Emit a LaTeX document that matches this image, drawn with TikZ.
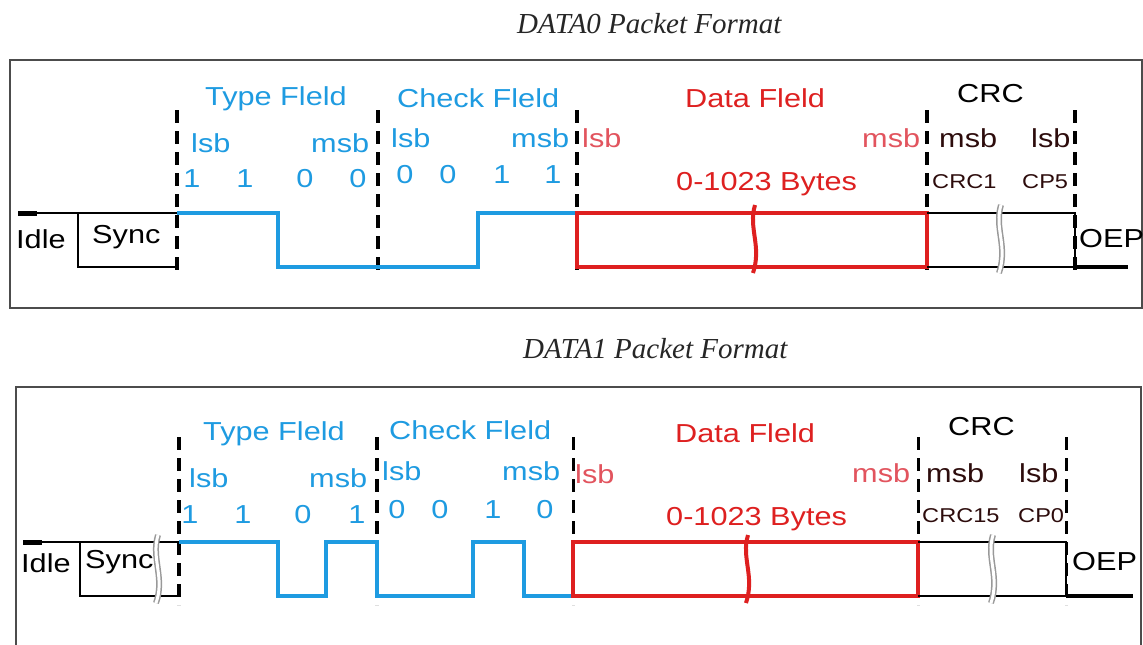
\documentclass[tikz,border=0pt]{standalone}
\usepackage{fontspec}
\setmainfont{Liberation Sans}[FakeStretch=1.18]
\newfontfamily\ttlfont{Liberation Serif}
\definecolor{fldblue}{RGB}{30,155,225}
\definecolor{fldred}{RGB}{222,32,32}
\definecolor{bitred}{RGB}{226,84,94}
\definecolor{crcbrown}{RGB}{45,12,12}

\begin{document}
\begin{tikzpicture}[x=1pt,y=-1pt,
	lbl/.style={inner sep=0pt,anchor=base west,font=\fontsize{26}{30}\selectfont},
	small/.style={lbl,font=\fontsize{20}{24}\selectfont},
	bit/.style={lbl,anchor=base},
	ttl/.style={inner sep=0pt,anchor=base west,text=black!85,font=\ttlfont\itshape\fontsize{29}{33}\selectfont},
	wire/.style={line width=2.8pt},
	bwire/.style={line width=3.2pt,fldblue},
	rwire/.style={line width=4pt,fldred},
	sep/.style={line width=4pt,dash pattern=on 13pt off 8pt},
	thinsep/.style={sep,line width=3pt},
	frame/.style={line width=2.5pt,black!70},
	brkred/.style={line width=4pt,fldred},
	brkgray/.style={draw=black!40,line width=1.5pt,double=white,double distance=3pt}]
	\useasboundingbox[fill=white] (0,0) rectangle (1143,645);
	% DATA0
	\node[ttl] (ttl0) at (517,33) {DATA0 Packet Format};
	\draw[frame] (10,60) rectangle (1142,308);
	\foreach \x in {177,378,577,927,1075} \draw[sep] (\x,110) -- (\x,277);
	\draw[line width=5pt] (18,213) -- ++(19,0); % idle
	\draw[wire] (18,213) -- (177,213) (78,213) -- (78,267) -- (177,267); % sync
	\draw[bwire] (177,213) -- (278,213) -- (278,267) -- (478,267) -- (478,213) -- (577,213); % type + check
	\draw[rwire] (577,213) rectangle (927,267); % data
	\draw[wire] (927,213) -- (1075,213) -- (1075,267) (927,267) -- (1075,267); % crc
	\draw[line width=3.5pt] (1075,267) -- (1128,267); % eop
	\draw[brkred] (755,205) .. controls (748,228) and (762,246) .. (753,273);
	\draw[brkgray] (1001,205) .. controls (994,228) and (1008,246) .. (999,273);
	\node[lbl] (idle0) at (16,248) {Idle};
	\node[lbl] (sync0) at (92,243) {Sync};
	\node[lbl,fldblue] (type0) at (205,105) {Type Fleld};
	\node[lbl,fldblue] (chk0) at (397,107) {Check Fleld};
	\node[lbl,fldred] (data0) at (685,107) {Data Fleld};
	\node[lbl] (crc0) at (957,102) {CRC};
	\node[lbl,fldblue] (tl0) at (191,152) {lsb};
	\node[lbl,fldblue] (tm0) at (311,152) {msb};
	\node[lbl,fldblue] (cl0) at (391,147) {lsb};
	\node[lbl,fldblue] (cm0) at (511,147) {msb};
	\node[lbl,bitred] (dl0) at (582,147) {lsb};
	\node[lbl,bitred] (dm0) at (862,147) {msb};
	\node[lbl,crcbrown] (rm0) at (939,147) {msb};
	\node[lbl,crcbrown] (rl0) at (1031,147) {lsb};
	\foreach \x/\b [count=\i] in {192/1,245/1,305/0,358/0} \node[bit,fldblue] (tb0\i) at (\x,187) {\b};
	\foreach \x/\b [count=\i] in {405/0,448/0,502/1,553/1} \node[bit,fldblue] (cb0\i) at (\x,183) {\b};
	\node[lbl,fldred] (len0) at (676,190) {0-1023 Bytes};
	\node[small,crcbrown] (rf0) at (932,188) {CRC1};
	\node[small,crcbrown] (rs0) at (1022,188) {CP5};
	\node[lbl] (eop0) at (1079,247) {OEP};
	% DATA1
	\node[ttl] (ttl1) at (523,358) {DATA1 Packet Format};
	\draw[frame] (16,646) -- (16,387) -- (1141,387) -- (1141,646);
	\foreach \x in {179,377} \draw[sep] (\x,437) -- (\x,605);
	\foreach \x in {573,918,1066} \draw[thinsep] (\x,437) -- (\x,605);
	\draw[line width=5pt] (23,542) -- ++(19,0); % idle
	\draw[wire] (23,542) -- (179,542) (80,542) -- (80,596) -- (179,596); % sync
	\draw[bwire] (179,542) -- (278,542) -- (278,596) -- (326,596) -- (326,542) -- (377,542) -- (377,596) -- (473,596) -- (473,542) -- (524,542) -- (524,596) -- (573,596); % type + check
	\draw[rwire] (573,542) rectangle (918,596); % data
	\draw[wire] (918,542) -- (1066,542) -- (1066,596) (918,596) -- (1066,596); % crc
	\draw[line width=3.5pt] (1066,596) -- (1133,596); % eop
	\draw[brkgray] (158,535) .. controls (151,558) and (165,578) .. (156,603);
	\draw[brkred] (748,535) .. controls (741,558) and (755,576) .. (746,603);
	\draw[brkgray] (993,535) .. controls (986,558) and (1000,576) .. (991,603);
	\node[lbl] (idle1) at (21,572) {Idle};
	\node[lbl] (sync1) at (85,568) {Sync};
	\node[lbl,fldblue] (type1) at (203,440) {Type Fleld};
	\node[lbl,fldblue] (chk1) at (389,439) {Check Fleld};
	\node[lbl,fldred] (data1) at (675,442) {Data Fleld};
	\node[lbl] (crc1) at (948,435) {CRC};
	\node[lbl,fldblue] (tl1) at (189,487) {lsb};
	\node[lbl,fldblue] (tm1) at (309,487) {msb};
	\node[lbl,fldblue] (cl1) at (382,480) {lsb};
	\node[lbl,fldblue] (cm1) at (502,480) {msb};
	\node[lbl,bitred] (dl1) at (575,483) {lsb};
	\node[lbl,bitred] (dm1) at (852,482) {msb};
	\node[lbl,crcbrown] (rm1) at (926,482) {msb};
	\node[lbl,crcbrown] (rl1) at (1019,482) {lsb};
	\foreach \x/\b [count=\i] in {190/1,243/1,303/0,357/1} \node[bit,fldblue] (tb1\i) at (\x,523) {\b};
	\foreach \x/\b [count=\i] in {397/0,440/0,493/1,545/0} \node[bit,fldblue] (cb1\i) at (\x,518) {\b};
	\node[lbl,fldred] (len1) at (666,525) {0-1023 Bytes};
	\node[small,crcbrown] (rf1) at (922,522) {CRC15};
	\node[small,crcbrown] (rs1) at (1018,522) {CP0};
	\node[lbl] (eop1) at (1072,570) {OEP};
\end{tikzpicture}
\end{document}
